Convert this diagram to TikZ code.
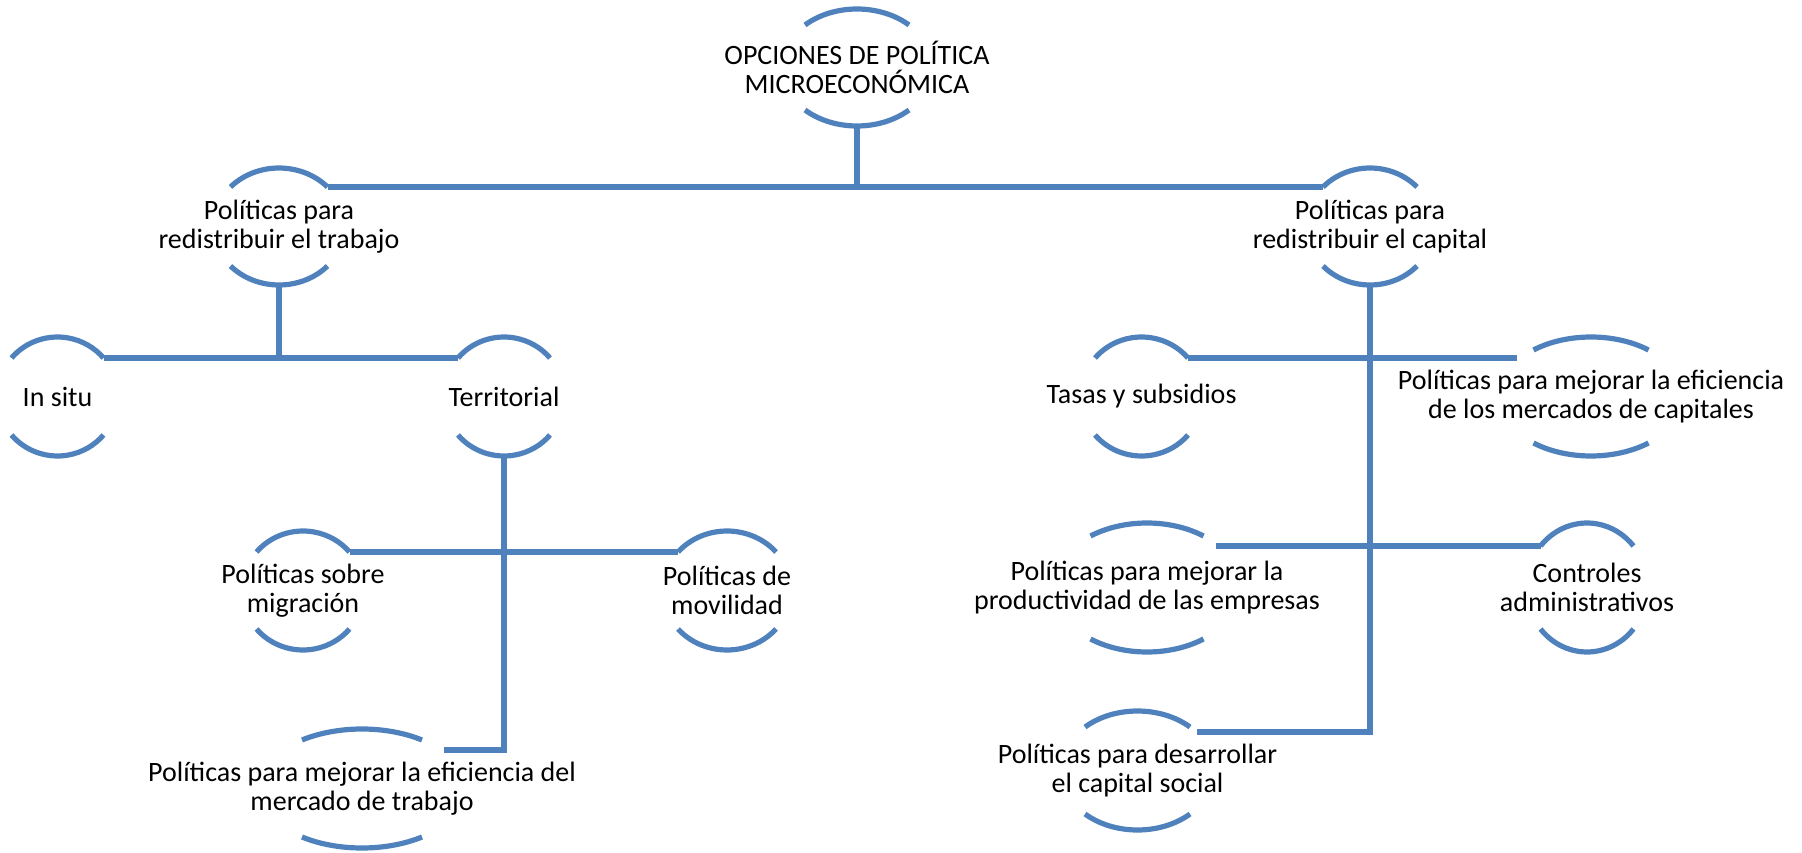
\documentclass[tikz,border=0pt]{standalone}
\usepackage{fontspec}
\setmainfont{Carlito}
\definecolor{lineblue}{HTML}{4F81BD}
\tikzset{
  lbl/.style={align=center, inner sep=0pt, font=\fontsize{14}{14.5}\selectfont, text=black},
  arcst/.style={draw=lineblue, line width=2.6pt},
  conn/.style={draw=lineblue, line width=2.6pt}
}
% name, cx, cy (y down, px), ry, sagitta, half chord, text
\newcommand\brnode[7]{%
  \pgfmathsetmacro\bcy{852-#3}%
  \pgfmathsetmacro\bth{asin((#4-#5)/#4)}%
  \pgfmathsetmacro\brx{#6/cos(\bth)}%
  \pgfmathsetmacro\bey{#4-#5}%
  \node[lbl] (#1) at (#2,\bcy) {#7};
  \coordinate (#1-tl) at (#2-#6,\bcy+\bey);
  \coordinate (#1-tr) at (#2+#6,\bcy+\bey);
  \coordinate (#1-bl) at (#2-#6,\bcy-\bey);
  \coordinate (#1-t) at (#2,\bcy+#4);
  \coordinate (#1-b) at (#2,\bcy-#4);
  \draw[arcst] (#1-tl) arc[start angle=180-\bth, end angle=\bth, x radius=\brx, y radius=#4];
  \draw[arcst] (#1-bl) arc[start angle=180+\bth, end angle=360-\bth, x radius=\brx, y radius=#4];
}
\begin{document}
\begin{tikzpicture}[x=0.5pt,y=0.5pt]
\useasboundingbox (0,0) rectangle (1802,852);
\brnode{T}{857}{67.5}{58.5}{16}{52}{OPCIONES DE POLÍTICA\\MICROECONÓMICA}
\brnode{LT}{279}{226.5}{58.5}{19}{48.5}{Políticas para\\redistribuir el trabajo}
\brnode{RT}{1370}{226.5}{58.5}{19}{47}{Políticas para\\redistribuir el capital}
\brnode{IS}{57.5}{396.5}{59.5}{21}{46}{In situ}
\brnode{TE}{504}{396.5}{59.5}{21}{46}{Territorial}
\brnode{TS}{1141.5}{396.5}{59.5}{21}{46.5}{Tasas y subsidios}
\brnode{MC}{1591}{396.5}{59.5}{13}{57.5}{Políticas para mejorar la eficiencia\\de los mercados de capitales}
\brnode{MG}{303}{590.5}{59.5}{21}{46.5}{Políticas sobre\\migración}
\brnode{MV}{727}{590.5}{59.5}{21}{49}{Políticas de\\movilidad}
\brnode{EM}{362}{788.5}{59.5}{11}{60}{Políticas para mejorar la eficiencia del\\mercado de trabajo}
\brnode{PR}{1147}{587.5}{64.5}{13}{56.5}{Políticas para mejorar la\\productividad de las empresas}
\brnode{CO}{1587}{587.5}{64.5}{23}{46.5}{Controles\\administrativos}
\brnode{CS}{1137.5}{770.5}{59.5}{16}{52.5}{Políticas para desarrollar\\el capital social}
% connector end points
\coordinate (MCc) at (1517,494);
\coordinate (EMc) at (444,102);
\coordinate (PRc) at (1216,306);
\coordinate (CSc) at (1197,120);
% connectors
\draw[conn] (LT-tr) -- (RT-tl);
\draw[conn] (T-b) -- (T-b |- LT-tr);
\draw[conn] (IS-tr) -- (TE-tl);
\draw[conn] (LT-b) -- (LT-b |- IS-tr);
\draw[conn] (MG-tr) -- (MV-tl);
\draw[conn] (TE-b) |- (EMc);
\draw[conn] (TS-tr) -- (MCc);
\draw[conn] (PRc) -- (CO-tl);
\draw[conn] (RT-b) |- (CSc);
\end{tikzpicture}
\end{document}
